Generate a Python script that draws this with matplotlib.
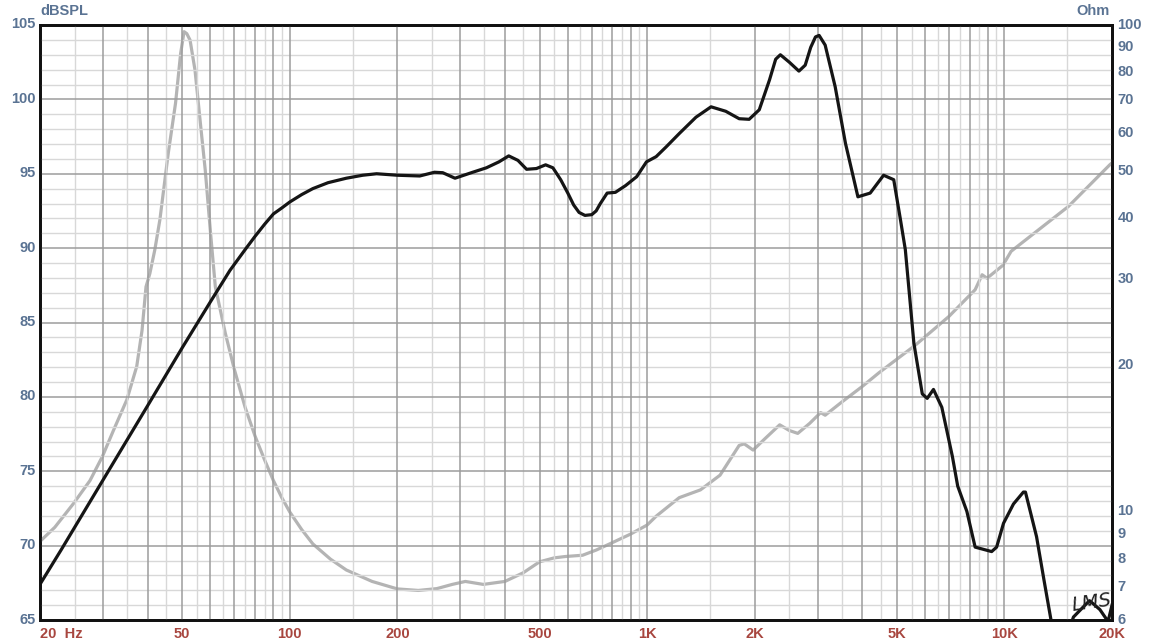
import numpy as np
import matplotlib
matplotlib.use("Agg")
import matplotlib.pyplot as plt
import matplotlib.transforms as mtransforms
from matplotlib.ticker import NullFormatter, NullLocator

# SPL response (black, left axis)
spl_freq = [20, 22.9, 30, 40, 50, 60, 68, 75, 80, 85, 90, 95, 100, 108, 116, 128,
            144, 160, 175, 200, 231, 254, 268, 290, 325, 355, 385, 410, 435, 460,
            490, 520, 545, 573, 600, 623, 645, 670, 700, 720, 740, 773, 815, 870,
            935, 996, 1060, 1130, 1230, 1370, 1510, 1660, 1810, 1930, 2060, 2200,
            2290, 2360, 2500, 2660, 2770, 2870, 2960, 3030, 3150, 3360, 3590, 3890,
            4210, 4590, 4900, 5110, 5280, 5580, 5890, 6080, 6330, 6680, 7150, 7400,
            7850, 8280, 9210, 9510, 9940, 10600, 11300, 11450, 12300, 12900, 13500,
            14200, 15000, 15600, 16500, 17300, 17700, 18500, 19500, 20000]
spl_db = [67.4, 69.7, 74.4, 79.4, 83.3, 86.4, 88.5, 89.9, 90.8, 91.6, 92.3, 92.7,
          93.1, 93.6, 94.0, 94.4, 94.7, 94.9, 95.0, 94.9, 94.85, 95.1, 95.07, 94.7,
          95.1, 95.4, 95.8, 96.2, 95.9, 95.3, 95.35, 95.6, 95.4, 94.6, 93.7, 92.9,
          92.4, 92.2, 92.25, 92.5, 93.0, 93.7, 93.75, 94.2, 94.8, 95.8, 96.15, 96.8,
          97.7, 98.8, 99.5, 99.2, 98.7, 98.66, 99.3, 101.3, 102.7, 103.0, 102.5,
          101.9, 102.3, 103.5, 104.2, 104.3, 103.65, 100.85, 97.05, 93.45, 93.7,
          94.9, 94.6, 92.0, 89.9, 83.6, 80.2, 79.9, 80.5, 79.3, 76.0, 74.0, 72.3,
          69.9, 69.6, 69.9, 71.5, 72.8, 73.6, 73.6, 70.6, 67.7, 65.0, 63.5, 64.0,
          65.2, 65.8, 66.3, 66.1, 65.7, 64.9, 66.0]

# impedance (grey, right axis)
imp_freq = [20, 22, 24.8, 27.6, 29.9, 32.1, 35.0, 37.3, 38.6, 39.6, 40.6, 41.9,
            43.3, 45.7, 47.9, 49.5, 50.6, 51.5, 52.6, 54.3, 56.1, 58.0, 60.0, 61.9,
            66.0, 70, 75, 80, 85, 90, 95, 100, 108, 116, 130, 144, 170, 200, 229,
            258, 285, 310, 348, 400, 450, 500, 550, 590, 660, 720, 786, 897, 1000,
            1060, 1230, 1410, 1600, 1810, 1870, 1980, 2150, 2350, 2500, 2640, 2850,
            3060, 3150, 3500, 4000, 4450, 5630, 6990, 8280, 8660, 8940, 9900, 10440,
            15100, 19700, 20000]
imp_ohm = [8.7, 9.3, 10.4, 11.6, 13.0, 14.7, 17.0, 19.9, 23.6, 29.0, 30.9, 34.5,
           39.8, 54.5, 69.1, 87.4, 96.9, 96.0, 93.1, 80.8, 63.8, 50.4, 37.5, 29.0,
           23.3, 19.6, 16.4, 14.3, 12.8, 11.6, 10.7, 10.0, 9.2, 8.6, 8.0, 7.6, 7.2,
           6.95, 6.9, 6.96, 7.1, 7.2, 7.1, 7.2, 7.5, 7.9, 8.05, 8.1, 8.15, 8.35,
           8.6, 9.0, 9.4, 9.8, 10.7, 11.1, 11.9, 13.7, 13.8, 13.4, 14.2, 15.1, 14.7,
           14.5, 15.2, 16.0, 15.8, 16.8, 18.1, 19.3, 22.0, 25.2, 28.6, 30.7, 30.2,
           32.1, 34.3, 42.4, 51.6, 52.1]

x_ticks = [20, 50, 100, 200, 500, 1000, 2000, 5000, 10000, 20000]
x_labels = ["20  Hz", "50", "100", "200", "500", "1K", "2K", "5K", "10K", "20K"]
db_ticks = [65, 70, 75, 80, 85, 90, 95, 100, 105]
ohm_ticks = [6, 7, 8, 9, 10, 20, 30, 40, 50, 60, 70, 80, 90, 100]

BLUE = "#5a7393"
RED = "#a8463f"
FONT = "Liberation Sans"

fig = plt.figure(figsize=(11.54, 6.39), dpi=100)
ax = fig.add_axes([40 / 1154, 19 / 639, 1072 / 1154, 595 / 639])
ax.set_xscale("log")
ax.set_xlim(20, 20000)
ax.set_ylim(65, 105)

# grid: light half-steps, darker at each 1..9 multiple
for dec in [10, 100, 1000, 10000]:
    for k in range(1, 10):
        f = k * dec
        if 20 < f < 20000:
            ax.axvline(f, color="#9c9c9c", lw=1.1, zorder=1)
        fh = (k + 0.5) * dec
        if 20 < fh < 20000:
            ax.axvline(fh, color="#d8d8d8", lw=1.0, zorder=0.5)
for d in range(66, 105):
    if d % 5 == 0:
        ax.axhline(d, color="#9c9c9c", lw=1.1, zorder=1)
    else:
        ax.axhline(d, color="#d8d8d8", lw=1.0, zorder=0.5)

ax.xaxis.set_minor_locator(NullLocator())
ax.set_xticks(x_ticks)
ax.set_xticklabels(x_labels)
ax.set_yticks(db_ticks)
ax.tick_params(axis="x", length=0, pad=5, labelsize=10.5, labelcolor=RED)
ax.tick_params(axis="y", length=0, pad=3, labelsize=10.5, labelcolor=BLUE)
up = mtransforms.ScaledTranslation(0, 2 / 100, fig.dpi_scale_trans)
for lab in ax.get_xticklabels():
    lab.set_fontfamily(FONT)
    lab.set_fontweight("bold")
for lab in ax.get_yticklabels():
    lab.set_fontfamily(FONT)
    lab.set_fontweight("bold")
    lab.set_transform(lab.get_transform() + up)
ax.get_xticklabels()[0].set_ha("left")
for s in ax.spines.values():
    s.set_linewidth(2)
    s.set_color("#111111")
    s.set_zorder(5)

ax2 = ax.twinx()
ax2.set_yscale("log")
ax2.set_ylim(6, 100)
ax2.set_yticks(ohm_ticks)
ax2.set_yticklabels([str(t) for t in ohm_ticks])
ax2.yaxis.set_minor_formatter(NullFormatter())
ax2.yaxis.set_minor_locator(NullLocator())
ax2.tick_params(axis="y", length=0, pad=4, labelsize=10.5, labelcolor=BLUE)
for lab in ax2.get_yticklabels():
    lab.set_fontfamily(FONT)
    lab.set_fontweight("bold")
    lab.set_transform(lab.get_transform() + up)
for s in ax2.spines.values():
    s.set_linewidth(2)
    s.set_color("#111111")

ax2.plot(imp_freq, imp_ohm, color="#b4b4b4", lw=2.3, zorder=3)
ax.set_zorder(ax2.get_zorder() + 1)
ax.patch.set_visible(False)
ax2.patch.set_facecolor("white")
ax.plot(spl_freq, spl_db, color="#151515", lw=2.3, zorder=4)

fig.text(40 / 1154, 1 - 11 / 639, "dBSPL", color=BLUE, fontsize=10.5,
         fontweight="bold", family=FONT, ha="left", va="center")
fig.text(1110 / 1154, 1 - 11 / 639, "Ohm", color=BLUE, fontsize=10.5,
         fontweight="bold", family=FONT, ha="right", va="center")
ax.text(15300, 65.6, "LMS", fontsize=14, fontstyle="italic", color="#222222",
        rotation=8, zorder=6)

fig.savefig("out.png", dpi=100)
